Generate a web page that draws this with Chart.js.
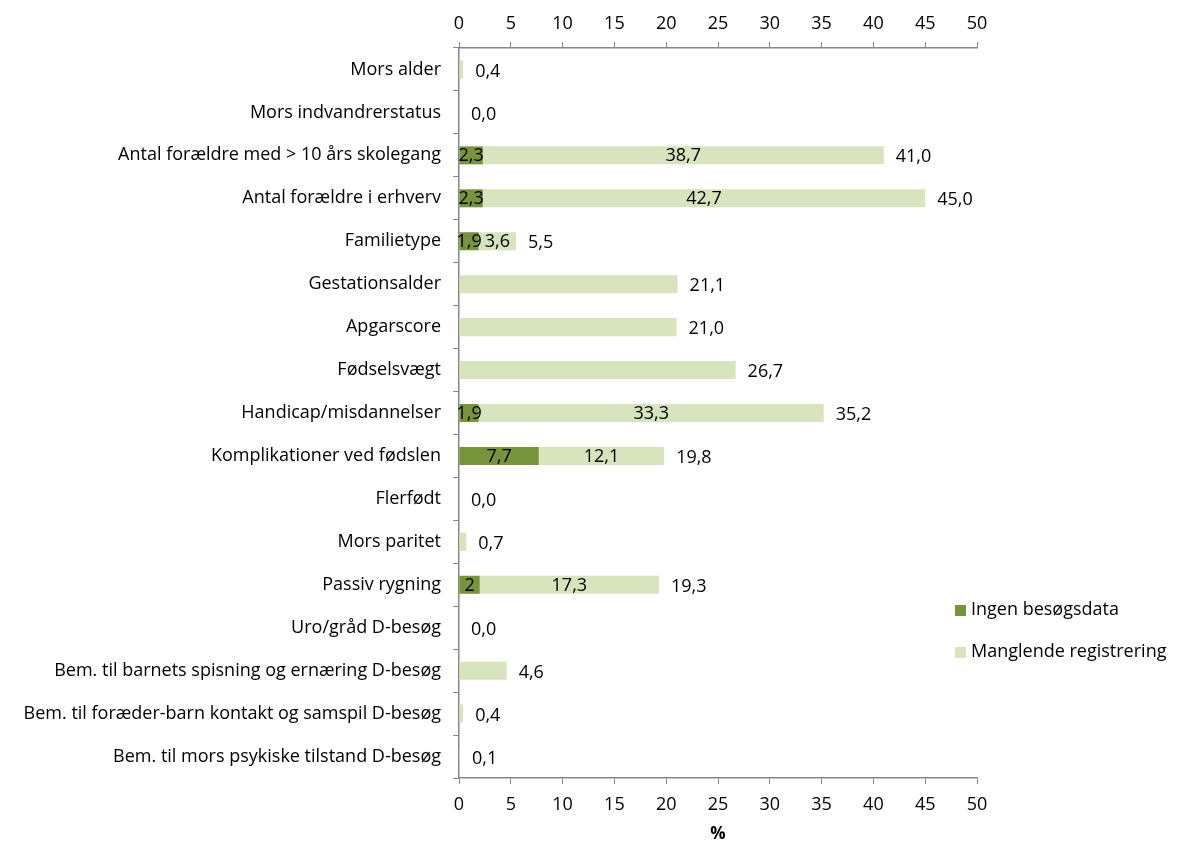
<!DOCTYPE html>
<html>
<head>
<meta charset="utf-8">
<script src="https://cdn.jsdelivr.net/npm/chart.js@4/dist/chart.umd.min.js"></script>
<style>
  html, body { margin: 0; padding: 0; background: #fff; }
  #wrap { width: 1179px; height: 848px; }
</style>
</head>
<body>
<div id="wrap"><canvas id="chart" width="1179" height="848"></canvas></div>
<script>
var categories = [
  "Mors alder",
  "Mors indvandrerstatus",
  "Antal forældre med > 10 års skolegang",
  "Antal forældre i erhverv",
  "Familietype",
  "Gestationsalder",
  "Apgarscore",
  "Fødselsvægt",
  "Handicap/misdannelser",
  "Komplikationer ved fødslen",
  "Flerfødt",
  "Mors paritet",
  "Passiv rygning",
  "Uro/gråd D-besøg",
  "Bem. til barnets spisning og ernæring D-besøg",
  "Bem. til foræder-barn kontakt og samspil D-besøg",
  "Bem. til mors psykiske tilstand D-besøg"
];

var ingenBesoegsdata = [0, 0, 2.3, 2.3, 1.9, 0, 0, 0, 1.9, 7.7, 0, 0, 2, 0, 0, 0, 0];
var manglendeRegistrering = [0.4, 0, 38.7, 42.7, 3.6, 21.1, 21.0, 26.7, 33.3, 12.1, 0, 0.7, 17.3, 0, 4.6, 0.4, 0.1];
var totals = [0.4, 0.0, 41.0, 45.0, 5.5, 21.1, 21.0, 26.7, 35.2, 19.8, 0.0, 0.7, 19.3, 0.0, 4.6, 0.4, 0.1];

var xTicks = [0, 5, 10, 15, 20, 25, 30, 35, 40, 45, 50];

var darkGreen = "#77933C";
var lightGreen = "#D7E4BD";
var axisGray = "#868686";
var fontFamily = "'Open Sans', sans-serif";
var fontSize = 18;

Chart.defaults.font.family = fontFamily;
Chart.defaults.font.size = fontSize;
Chart.defaults.color = "#000";

function comma(v) {
  return String(v).replace(".", ",");
}

// values inside the stacked segments plus the total after each bar
var labelPlugin = {
  id: "barLabels",
  afterDatasetsDraw: function (chart) {
    var ctx = chart.ctx;
    var xScale = chart.scales.x;
    var darkMeta = chart.getDatasetMeta(0);
    var lightMeta = chart.getDatasetMeta(1);
    ctx.save();
    ctx.font = fontSize + "px " + fontFamily;
    ctx.fillStyle = "#000";
    ctx.textBaseline = "middle";
    ctx.textAlign = "center";
    for (var i = 0; i < categories.length; i++) {
      var y = darkMeta.data[i].y;
      if (ingenBesoegsdata[i] > 0) {
        var d = darkMeta.data[i];
        ctx.fillText(comma(ingenBesoegsdata[i]), (d.x + d.base) / 2, y + 1);
        var l = lightMeta.data[i];
        ctx.fillText(comma(manglendeRegistrering[i]), (l.x + l.base) / 2, y + 1);
      }
    }
    ctx.textAlign = "left";
    for (var j = 0; j < totals.length; j++) {
      var ty = darkMeta.data[j].y;
      ctx.fillText(totals[j].toFixed(1).replace(".", ","), xScale.getPixelForValue(totals[j]) + 12, ty + 2);
    }
    ctx.restore();
  }
};

// legend sits over the right side of the plot, as a plain list
var legendPlugin = {
  id: "sideLegend",
  afterDraw: function (chart) {
    var ctx = chart.ctx;
    var items = [
      { text: "Ingen besøgsdata", color: darkGreen, y: 610 },
      { text: "Manglende registrering", color: lightGreen, y: 652 }
    ];
    ctx.save();
    ctx.font = fontSize + "px " + fontFamily;
    ctx.textBaseline = "middle";
    ctx.textAlign = "left";
    items.forEach(function (it) {
      ctx.fillStyle = it.color;
      ctx.fillRect(955, it.y - 5, 11, 11);
      ctx.fillStyle = "#000";
      ctx.fillText(it.text, 971, it.y);
    });
    ctx.restore();
  }
};

var valueAxis = function (position, pad) {
  return {
    type: "linear",
    position: position,
    min: 0,
    max: 50,
    stacked: true,
    afterBuildTicks: function (axis) {
      axis.ticks = xTicks.map(function (v) { return { value: v }; });
    },
    grid: {
      display: true,
      drawOnChartArea: false,
      drawTicks: true,
      tickLength: 6,
      color: axisGray
    },
    border: { display: true, color: axisGray, width: 1.5 },
    ticks: { padding: pad, color: "#000", font: { size: fontSize } }
  };
};

var xBottom = valueAxis("bottom", 10);
xBottom.title = { display: true, text: "%", font: { size: 17, weight: "bold" }, color: "#000", padding: { top: 8 } };
xBottom.afterFit = function (axis) { axis.height = 70; };
var xTop = valueAxis("top", 7);
xTop.afterFit = function (axis) { axis.height = 48; };

new Chart(document.getElementById("chart"), {
  type: "bar",
  data: {
    labels: categories,
    datasets: [
      {
        label: "Ingen besøgsdata",
        data: ingenBesoegsdata,
        backgroundColor: darkGreen,
        barPercentage: 0.42,
        categoryPercentage: 1.0,
        xAxisID: "x"
      },
      {
        label: "Manglende registrering",
        data: manglendeRegistrering,
        backgroundColor: lightGreen,
        barPercentage: 0.42,
        categoryPercentage: 1.0,
        xAxisID: "x"
      }
    ]
  },
  options: {
    indexAxis: "y",
    responsive: false,
    animation: false,
    layout: { padding: { left: 0, right: 202, top: 0, bottom: 0 } },
    plugins: {
      legend: { display: false },
      tooltip: { enabled: false }
    },
    scales: {
      x: xBottom,
      x2: xTop,
      y: {
        stacked: true,
        afterFit: function (axis) { axis.width = 459; },
        grid: {
          display: true,
          offset: true,
          drawOnChartArea: false,
          tickLength: 6,
          color: axisGray
        },
        border: { display: true, color: axisGray, width: 1.5 },
        ticks: { padding: 12, color: "#000", font: { size: fontSize }, autoSkip: false }
      }
    }
  },
  plugins: [labelPlugin, legendPlugin]
});
</script>
</body>
</html>
